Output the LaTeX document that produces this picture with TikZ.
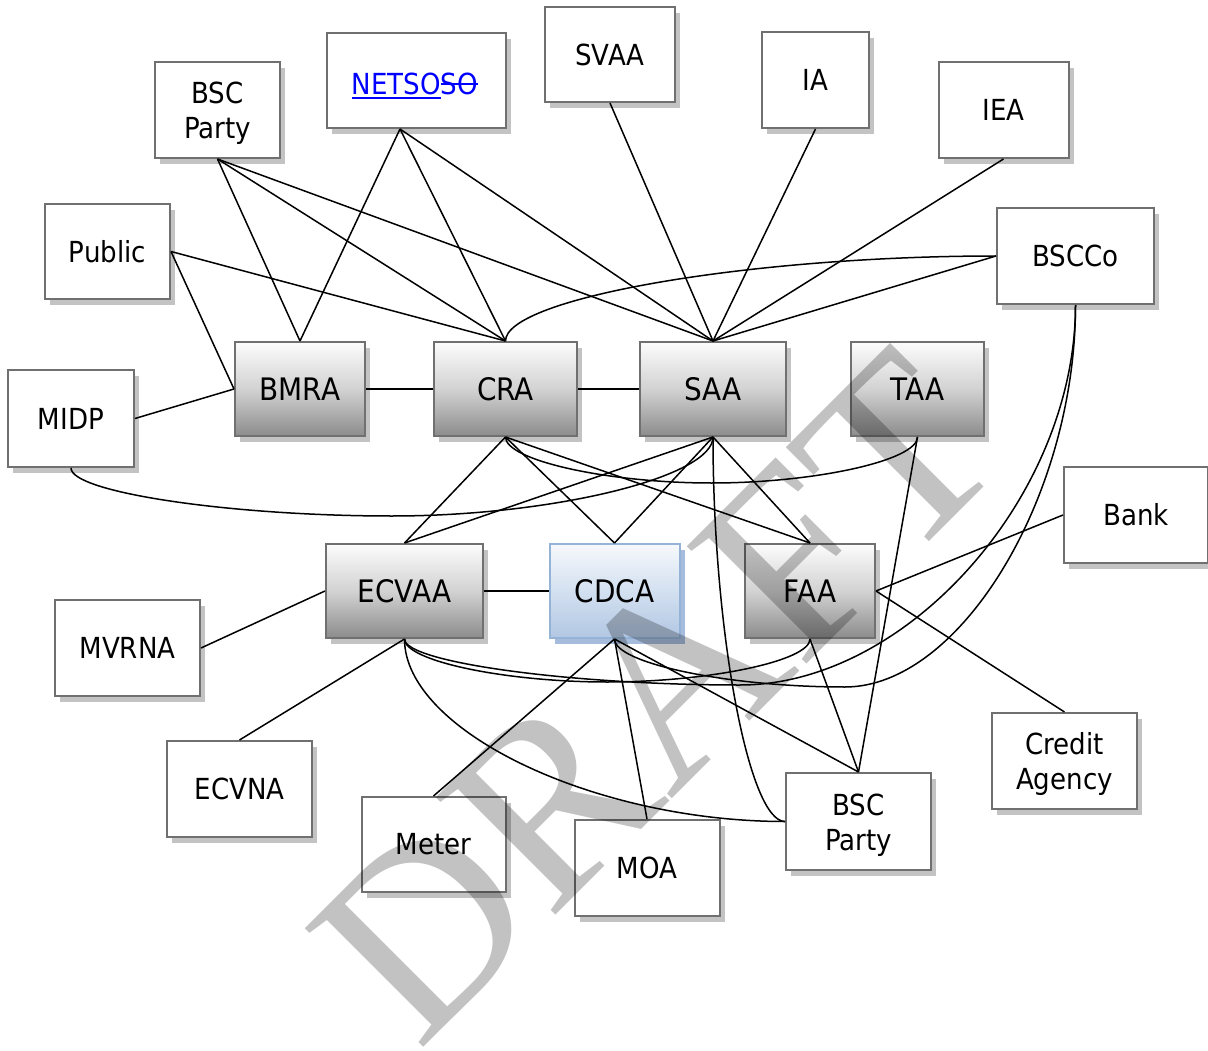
\documentclass[tikz,border=0pt]{standalone}
\usepackage{fontspec}
\setmainfont{DejaVu Sans}[FakeStretch=0.9]
\newfontfamily\wmfont{Liberation Serif}
\newcommand{\strk}[1]{\sbox0{#1}\rlap{\rule[9pt]{\wd0}{1.6pt}}\usebox0}
\newcommand{\ulin}[1]{\sbox0{#1}\rlap{\rule[-4.5pt]{\wd0}{1.6pt}}\usebox0}
\usetikzlibrary{shadows,calc}
\definecolor{bord}{HTML}{707070}
\definecolor{shc}{HTML}{C3C3C3}
\definecolor{shb}{HTML}{A6BCDC}
\definecolor{gtop}{HTML}{FCFCFC}
\definecolor{gmid}{HTML}{D2D2D2}
\definecolor{gbot}{HTML}{8C8C8C}
\definecolor{btop}{HTML}{F6F9FC}
\definecolor{bmid}{HTML}{D3E0F0}
\definecolor{bbot}{HTML}{B2C7E3}
\definecolor{bbord}{HTML}{95B3D7}
\definecolor{lnk}{HTML}{0000FF}
\definecolor{wm}{HTML}{C2C2C2}
\tikzset{
  wbox/.style={draw=bord, line width=2pt, fill=white, inner sep=0pt,
    align=center, font=\fontsize{29}{35}\selectfont,
    drop shadow={shadow xshift=5pt, shadow yshift=-6pt, fill=shc, opacity=1}},
  lbl/.style={inner sep=0pt, align=center, font=\fontsize{29}{35}\selectfont},
  gbox/.style={draw=bord, line width=2pt, inner sep=0pt,
    top color=gtop, bottom color=gbot, middle color=gmid,
    minimum width=130pt, minimum height=94pt,
    font=\fontsize{31}{35}\selectfont,
    drop shadow={shadow xshift=5pt, shadow yshift=-6pt, fill=shc, opacity=1}},
  bbox/.style={draw=bbord, line width=2pt, inner sep=0pt,
    top color=btop, bottom color=bbot, middle color=bmid,
    minimum width=130pt, minimum height=94pt,
    font=\fontsize{31}{35}\selectfont,
    drop shadow={shadow xshift=5pt, shadow yshift=-6pt, fill=shb, opacity=1}},
  link/.style={draw=black, line width=1.5pt}
}
\begin{document}
\begin{tikzpicture}[x=1pt,y=-1pt]
\useasboundingbox (0,0) rectangle (1208,1051);
% outer boxes
\node[wbox, minimum width=125pt, minimum height=96pt] (bscA) at (217.5,110) {};
\node[lbl] (bscAt) at ($(bscA.center)+(0,3.5)$) {BSC\\Party};
\node[wbox, minimum width=179pt, minimum height=95pt] (netso) at (416,80.5) {};
\node[lbl] (netsot) at ($(netso.center)+(-1,5)$) {\textcolor{lnk}{\ulin{NETSO}\strk{SO}}};
\node[wbox, minimum width=130pt, minimum height=95pt] (svaa) at (610,54.5) {SVAA};
\node[wbox, minimum width=107pt, minimum height=96pt] (ia) at (815.5,80) {IA};
\node[wbox, minimum width=130pt, minimum height=96pt] (iea) at (1003.5,110) {IEA};
\node[wbox, minimum width=125pt, minimum height=95pt] (public) at (107.5,251.5) {Public};
\node[wbox, minimum width=157pt, minimum height=96pt] (bscco) at (1075.5,256) {BSCCo};
\node[wbox, minimum width=126pt, minimum height=97pt] (midp) at (71,418.5) {MIDP};
\node[wbox, minimum width=144pt, minimum height=96pt] (bank) at (1136,515) {Bank};
\node[wbox, minimum width=145pt, minimum height=96pt] (mvrna) at (127.5,648) {MVRNA};
\node[wbox, minimum width=145pt, minimum height=96pt] (ecvna) at (239.5,789) {ECVNA};
\node[wbox, minimum width=145pt, minimum height=96pt] (credit) at (1064.5,761) {};
\node[lbl] (creditt) at ($(credit.center)+(0,3)$) {Credit\\Agency};
\node[wbox, minimum width=144pt, minimum height=95pt] (meter) at (433.5,844.5) {Meter};
\node[wbox, minimum width=145pt, minimum height=96pt] (moa) at (647,868) {MOA};
\node[wbox, minimum width=145pt, minimum height=97pt] (bscB) at (858.5,821.5) {};
\node[lbl] (bscBt) at ($(bscB.center)+(0,3.5)$) {BSC\\Party};
% central boxes
\node[gbox] (bmra) at (300,389) {BMRA};
\node[gbox, minimum width=143pt] (cra) at (505.5,389) {CRA};
\node[gbox, minimum width=146pt] (saa) at (713,389) {SAA};
\node[gbox, minimum width=133pt] (taa) at (917.5,389) {TAA};
\node[gbox, minimum width=157pt] (ecvaa) at (404.5,591) {ECVAA};
\node[bbox] (cdca) at (614.5,591) {CDCA};
\node[gbox] (faa) at (810,591) {FAA};
\coordinate (netsoA) at ($(netso.south)+(-16,0)$);
% straight connectors, top
\foreach \t in {bmra,cra,saa} {
  \draw[link] (bscA.south) -- (\t.north);
  \draw[link] (netsoA) -- (\t.north);
}
\draw[link] (public.east) -- (cra.north);
\draw[link] (public.east) -- (bmra.west);
\draw[link] (midp.east) -- (bmra.west);
\draw[link] (bmra.east) -- (cra.west);
\draw[link] (cra.east) -- (saa.west);
\draw[link] (svaa.south) -- (saa.north);
\draw[link] (ia.south) -- (saa.north);
\draw[link] (iea.south) -- (saa.north);
\draw[link] (bscco.west) -- (saa.north);
% middle
\foreach \t in {ecvaa,cdca,faa} {
  \draw[link] (cra.south) -- (\t.north);
  \draw[link] (saa.south) -- (\t.north);
}
\draw[link] (taa.south) -- (bscB.north);
% bottom
\draw[link] (ecvaa.west) -- (mvrna.east);
\draw[link] (ecvaa.south) -- (ecvna.north);
\draw[link] (ecvaa.east) -- (cdca.west);
\draw[link] (cdca.south) -- (meter.north);
\draw[link] (cdca.south) -- (moa.north);
\draw[link] (cdca.south) -- (bscB.north);
\draw[link] (faa.south) -- (bscB.north);
\draw[link] (faa.east) -- (bank.west);
\draw[link] (faa.east) -- (credit.north);
% curved connectors
\coordinate (mA) at (607.25,682);
\coordinate (mB) at (740,685);
\coordinate (mC) at (845,687);
\coordinate (mD) at (711.5,483);
\coordinate (mE) at (392,516);
\draw[link] (ecvaa.south) .. controls +(0,22) and +(-101.4,0) .. (mA)
  .. controls +(101.4,0) and +(0,22) .. (faa.south);
\draw[link] (ecvaa.south) .. controls +(0,23.5) and +(-167.75,0) .. (mB)
  .. controls +(167.75,0) and +(0,190.5) .. (bscco.south);
\draw[link] (cdca.south) .. controls +(0,24.5) and +(-115.4,0) .. (mC)
  .. controls +(115.4,0) and +(0,191.5) .. (bscco.south);
\draw[link] (cra.south) .. controls +(0,23.5) and +(-103,0) .. (mD)
  .. controls +(103,0) and +(0,23.5) .. (taa.south);
\draw[link] (midp.south) .. controls +(0,24.5) and +(-160.5,0) .. (mE)
  .. controls +(160.5,0) and +(0,40) .. (saa.south);
\draw[link] (cra.north) .. controls +(0,-43) and +(-246,0) .. (bscco.west);
\draw[link] (saa.south) .. controls +(0,192.75) and +(-36.5,0) .. (bscB.west);
\draw[link] (ecvaa.south) .. controls +(0,91.75) and +(-190.75,0) .. (bscB.west);
% watermark
\begin{scope}[blend mode=multiply]
\node[rotate=45, inner sep=0pt, text=wm, font=\wmfont\fontsize{256}{256}\selectfont] (draft) at (656,696) {DRAFT};
\end{scope}
\end{tikzpicture}
\end{document}
